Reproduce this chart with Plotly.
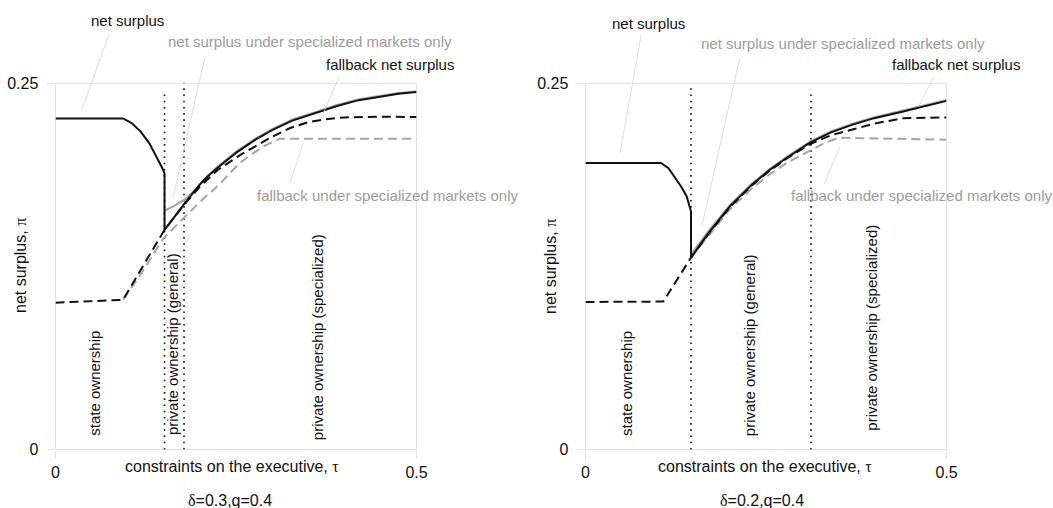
import plotly.graph_objects as go

# ---------------- data: panel 1 (delta=0.3, q=0.4) ----------------
p1_ns_x = [0, 0.0935, 0.105, 0.118, 0.13, 0.14, 0.147, 0.151, 0.151, 0.165, 0.178, 0.2, 0.21, 0.225, 0.25,
           0.277, 0.3, 0.328, 0.36, 0.39, 0.42, 0.45, 0.475, 0.5]
p1_ns_y = [0.226, 0.226, 0.223, 0.217, 0.209, 0.200, 0.193, 0.1885, 0.150, 0.159, 0.1675, 0.181, 0.186, 0.1925, 0.2025,
           0.2115, 0.218, 0.2245, 0.2295, 0.2345, 0.2385, 0.241, 0.2428, 0.244]
p1_nss_x = [0.151, 0.165, 0.18, 0.195, 0.21, 0.225, 0.25, 0.277, 0.3, 0.328, 0.36, 0.39, 0.42, 0.45, 0.475, 0.5]
p1_nss_y = [0.163, 0.1665, 0.171, 0.178, 0.1865, 0.1932, 0.2032, 0.2122, 0.2187, 0.2252, 0.2302, 0.2352, 0.2391, 0.2416, 0.2433, 0.2444]
p1_fb_x = [0, 0.0935, 0.151, 0.178, 0.2, 0.225, 0.255, 0.3, 0.325, 0.35, 0.375, 0.4, 0.45, 0.5]
p1_fb_y = [0.1002, 0.1022, 0.150, 0.167, 0.1795, 0.191, 0.2008, 0.2135, 0.2195, 0.2235, 0.2255, 0.2267, 0.2272, 0.227]
p1_fbs_x = [0.0935, 0.12, 0.15, 0.165, 0.182, 0.2, 0.225, 0.255, 0.27, 0.29, 0.311, 0.5]
p1_fbs_y = [0.1022, 0.121, 0.1445, 0.152, 0.160, 0.169, 0.180, 0.1955, 0.201, 0.2075, 0.2122, 0.2122]
p1_thresholds = [0.151, 0.178]
p1_threshold_tops = [0.2455, 0.25]

# ---------------- data: panel 2 (delta=0.2, q=0.4) ----------------
p2_ns_x = [0, 0.1046, 0.115, 0.1263, 0.133, 0.1402, 0.143, 0.1461, 0.1461, 0.17, 0.2, 0.23, 0.2555, 0.28,
           0.311, 0.34, 0.37, 0.4, 0.44, 0.47, 0.5]
p2_ns_y = [0.1956, 0.1956, 0.192, 0.184, 0.179, 0.1728, 0.168, 0.1626, 0.131, 0.1475, 0.166, 0.1805, 0.191, 0.1995,
           0.2095, 0.2165, 0.2218, 0.2262, 0.2308, 0.2345, 0.238]
p2_nss_x = [0.1461, 0.17, 0.2, 0.23, 0.2555, 0.28, 0.311, 0.34, 0.37, 0.4, 0.44, 0.47, 0.5]
p2_nss_y = [0.133, 0.1487, 0.1668, 0.1812, 0.1916, 0.2001, 0.2101, 0.2171, 0.2224, 0.2268, 0.2314, 0.2351, 0.2386]
p2_fb_x = [0, 0.1078, 0.1461, 0.17, 0.2, 0.23, 0.2555, 0.28, 0.311, 0.34, 0.37, 0.4, 0.44, 0.47, 0.5]
p2_fb_y = [0.1007, 0.101, 0.131, 0.147, 0.1655, 0.18, 0.1905, 0.199, 0.2085, 0.2145, 0.2185, 0.2225, 0.2262, 0.2267, 0.2267]
p2_fbs_x = [0.1461, 0.17, 0.2, 0.23, 0.2555, 0.28, 0.311, 0.33, 0.35, 0.4, 0.45, 0.5]
p2_fbs_y = [0.131, 0.146, 0.164, 0.178, 0.188, 0.196, 0.2042, 0.209, 0.2128, 0.2124, 0.212, 0.2115]
p2_thresholds = [0.1461, 0.3123]
p2_threshold_tops = [0.247, 0.2456]

subtitles = ["δ=0.3,q=0.4", "δ=0.2,q=0.4"]
x_ticks = [0, 0.5]
x_ticktext = ["0", "0.5"]
y_ticks = [0, 0.25]
y_ticktext = ["0", "0.25"]
X_MAX, Y_MAX = 0.5, 0.25

# ---------------- styling ----------------
FONT = "Liberation Sans, Arial, Helvetica, sans-serif"
SERIF = "Liberation Serif, Times New Roman, serif"
BLACK = "#111111"
GRAY_LINE = "#a6a6a6"
GRAY_TEXT = "#9c9c9c"
LEADER = "#cfcfcf"
GRID = "#e2e2e2"

W, H = 1053, 508
XDOM = {"x": [55.5 / W, 416.5 / W], "x2": [585.5 / W, 946.5 / W]}
YDOM = [1 - 449.5 / H, 1 - 83.3 / H]

fig = go.Figure()

panels = [
    dict(xa="x", ya="y", ns=(p1_ns_x, p1_ns_y), nss=(p1_nss_x, p1_nss_y), fb=(p1_fb_x, p1_fb_y),
         fbs=(p1_fbs_x, p1_fbs_y), th=p1_thresholds, tht=p1_threshold_tops),
    dict(xa="x2", ya="y2", ns=(p2_ns_x, p2_ns_y), nss=(p2_nss_x, p2_nss_y), fb=(p2_fb_x, p2_fb_y),
         fbs=(p2_fbs_x, p2_fbs_y), th=p2_thresholds, tht=p2_threshold_tops),
]

for p in panels:
    for t, top in zip(p["th"], p["tht"]):
        fig.add_trace(go.Scatter(x=[t, t], y=[0, top], mode="lines", xaxis=p["xa"], yaxis=p["ya"],
                                 line=dict(color=BLACK, width=1.6, dash="1.6px,4.6px"),
                                 showlegend=False, hoverinfo="skip"))
    fig.add_trace(go.Scatter(x=p["fbs"][0], y=p["fbs"][1], mode="lines", xaxis=p["xa"], yaxis=p["ya"],
                             line=dict(color=GRAY_LINE, width=2, dash="9px,5px"), showlegend=False))
    fig.add_trace(go.Scatter(x=p["nss"][0], y=p["nss"][1], mode="lines", xaxis=p["xa"], yaxis=p["ya"],
                             line=dict(color=GRAY_LINE, width=2.2), showlegend=False))
    fig.add_trace(go.Scatter(x=p["fb"][0], y=p["fb"][1], mode="lines", xaxis=p["xa"], yaxis=p["ya"],
                             line=dict(color=BLACK, width=2, dash="9px,5px"), showlegend=False))
    fig.add_trace(go.Scatter(x=p["ns"][0], y=p["ns"][1], mode="lines", xaxis=p["xa"], yaxis=p["ya"],
                             line=dict(color=BLACK, width=2), showlegend=False))


def px2paper(px, py):
    return px / W, 1 - py / H


def data2paper(xa, x, y):
    d = XDOM[xa]
    return d[0] + x / X_MAX * (d[1] - d[0]), YDOM[0] + y / Y_MAX * (YDOM[1] - YDOM[0])


axis_common = dict(range=[0, X_MAX], tickvals=x_ticks, ticktext=x_ticktext, showgrid=False,
                   zeroline=False, showline=False, ticks="outside", ticklen=8, tickcolor=GRID,
                   tickfont=dict(family=FONT, size=16, color=BLACK), fixedrange=True, automargin=False)
yaxis_common = dict(range=[0, Y_MAX], tickvals=y_ticks, ticktext=y_ticktext, showgrid=False,
                    zeroline=False, showline=False, ticks="outside", ticklen=8, tickcolor=GRID,
                    tickfont=dict(family=FONT, size=16, color=BLACK), fixedrange=True, automargin=False,
                    ticklabelstandoff=5)

fig.update_layout(
    width=W, height=H,
    margin=dict(l=0, r=0, t=0, b=0, pad=0, autoexpand=False),
    paper_bgcolor="white", plot_bgcolor="white",
    font=dict(family=FONT, size=15, color=BLACK),
    xaxis=dict(domain=XDOM["x"], anchor="y", **axis_common),
    yaxis=dict(domain=YDOM, anchor="x", **yaxis_common),
    xaxis2=dict(domain=XDOM["x2"], anchor="y2", **axis_common),
    yaxis2=dict(domain=YDOM, anchor="x2", **yaxis_common),
)

# light frame around each plotting area (as the grid lines at the axis ends)
for xa, ya in [("x", "y"), ("x2", "y2")]:
    fig.add_shape(type="rect", xref=xa + " domain", yref=ya + " domain", x0=0, x1=1, y0=0, y1=1,
                  line=dict(color=GRID, width=1), layer="below")

ann = []


def leader(xa, ya, hx, hy, tx, ty):
    ann.append(dict(xref=xa, yref=ya, axref=xa, ayref=ya, x=hx, y=hy, ax=tx, ay=ty, text=" ",
                    showarrow=True, arrowhead=0, arrowwidth=0.7, arrowcolor=LEADER, standoff=0,
                    font=dict(size=1)))


def label(xa, x, y, text, color=BLACK, size=15):
    px_, py_ = data2paper(xa, x, y)
    ann.append(dict(xref="paper", yref="paper", x=px_, y=py_, text=text, showarrow=False, xanchor="center",
                    yanchor="middle", font=dict(family=FONT, size=size, color=color)))


def vlabel(xa, x, y, text):
    px_, py_ = data2paper(xa, x, y)
    ann.append(dict(xref="paper", yref="paper", x=px_, y=py_, text=text, showarrow=False, textangle=-90,
                    xanchor="center", yanchor="bottom", font=dict(family=FONT, size=15, color=BLACK)))


# panel 1 annotations
leader("x", "y", 0.0363, 0.2318, 0.0755, 0.2853)
label("x", 0.1004, 0.2932, "net surplus")
leader("x", "y", 0.1632, 0.1725, 0.2071, 0.2682)
label("x", 0.3525, 0.2785, "net surplus under specialized markets only", GRAY_TEXT)
leader("x", "y", 0.3709, 0.2295, 0.3940, 0.2557)
label("x", 0.4633, 0.263, "fallback net surplus")
leader("x", "y", 0.3432, 0.209, 0.3238, 0.1805)
label("x", 0.4605, 0.1737, "fallback under specialized markets only", GRAY_TEXT)
vlabel("x", 0.0547, 0.0084, "state ownership")
vlabel("x", 0.163, 0.0086, "private ownership (general)")
vlabel("x", 0.364, 0.0052, "private ownership (specialized)")

# panel 2 annotations
leader("x2", "y2", 0.0478, 0.2024, 0.0776, 0.2843)
label("x2", 0.0867, 0.2906, "net surplus")
leader("x2", "y2", 0.161, 0.152, 0.2140, 0.2683)
label("x2", 0.356, 0.2774, "net surplus under specialized markets only", GRAY_TEXT)
leader("x2", "y2", 0.461, 0.234, 0.4841, 0.2558)
label("x2", 0.5136, 0.2626, "fallback net surplus")
leader("x2", "y2", 0.3525, 0.207, 0.3294, 0.1797)
label("x2", 0.4651, 0.1732, "fallback under specialized markets only", GRAY_TEXT)
vlabel("x2", 0.057, 0.008, "state ownership")
vlabel("x2", 0.227, 0.008, "private ownership (general)")
vlabel("x2", 0.396, 0.0118, "private ownership (specialized)")

# axis titles and subtitles
tau = '<span style="font-family:%s">τ</span>' % SERIF
pi = '<span style="font-family:%s">π</span>' % SERIF
for (xt, yt), (ys_x, ys_y), (sx, sy), sub in [
    ((232, 466), (20, 266), (230, 500), subtitles[0]),
    ((765, 466.7), (550, 266), (761.7, 500), subtitles[1]),
]:
    px_, py_ = px2paper(xt, yt)
    ann.append(dict(xref="paper", yref="paper", x=px_, y=py_, text="constraints on the executive, " + tau,
                    showarrow=False, xanchor="center", yanchor="middle",
                    font=dict(family=FONT, size=16, color=BLACK)))
    px_, py_ = px2paper(ys_x, ys_y)
    ann.append(dict(xref="paper", yref="paper", x=px_, y=py_, text="net surplus, " + pi, textangle=-90,
                    showarrow=False, xanchor="center", yanchor="middle",
                    font=dict(family=FONT, size=16, color=BLACK)))
    px_, py_ = px2paper(sx, sy)
    sub_html = sub.replace("δ", '<span style="font-family:%s">δ</span>' % SERIF)
    ann.append(dict(xref="paper", yref="paper", x=px_, y=py_, text=sub_html,
                    showarrow=False, xanchor="center", yanchor="middle",
                    font=dict(family=FONT, size=16, color=BLACK)))

fig.update_layout(annotations=ann)

fig.write_html("out.html", config={"displayModeBar": False},
               post_script="document.body.style.margin='0px';")
